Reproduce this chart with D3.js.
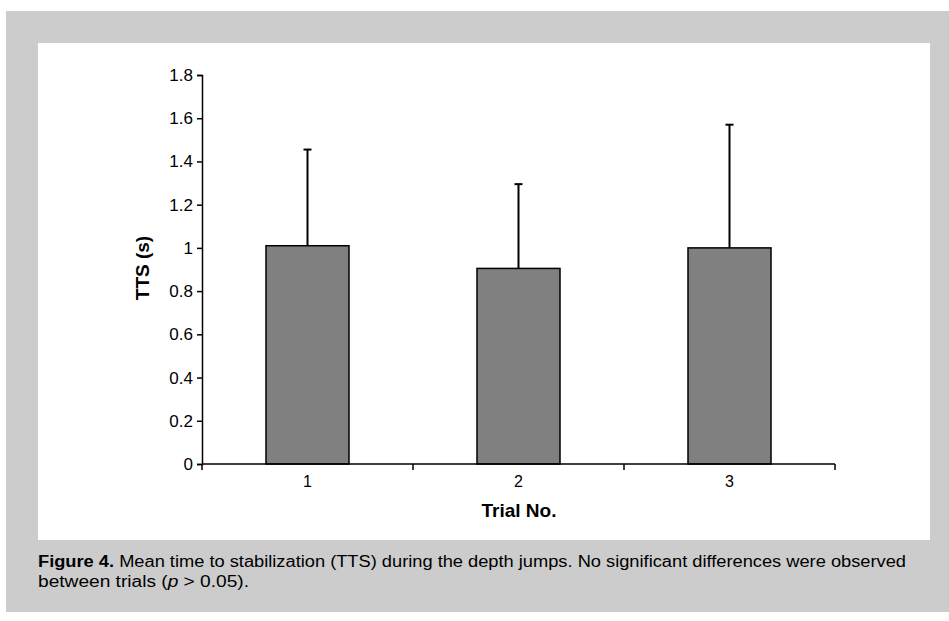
<!DOCTYPE html>
<html>
<head>
<meta charset="utf-8">
<script src="https://cdn.jsdelivr.net/npm/d3@7"></script>
<style>
    body { margin: 0; background: #ffffff; }
    svg { display: block; font-family: "Liberation Sans", Arial, sans-serif; }
</style>
</head>
<body>
<div id="chart"></div>
<script>
    // chart data
    var trials = ["1", "2", "3"];
    var meanTTS = [1.01, 0.905, 1.0];
    var sdTTS = [0.445, 0.39, 0.57];
    var yTicks = [0, 0.2, 0.4, 0.6, 0.8, 1, 1.2, 1.4, 1.6, 1.8];

    function drawChart() {
        var width = 949,
            height = 621,
            svg = d3.select("#chart").append("svg")
                .attr("width", width)
                .attr("height", height),
            plot = {left: 202, right: 835, top: 75, bottom: 464},
            x,
            y,
            band,
            barWidth = 83,
            g;

        // gray frame and white panel
        svg.append("rect")
            .attr("x", 6).attr("y", 11)
            .attr("width", 943).attr("height", 601)
            .attr("fill", "#cccccc");
        svg.append("rect")
            .attr("x", 38).attr("y", 43)
            .attr("width", 892).attr("height", 497)
            .attr("fill", "#ffffff");

        x = d3.scaleBand().domain(trials).range([plot.left, plot.right]);
        y = d3.scaleLinear().domain([0, 1.8]).range([plot.bottom, plot.top]);
        band = x.bandwidth();

        g = svg.append("g");

        // bars
        g.selectAll("rect.bar")
            .data(trials)
            .enter()
            .append("rect")
            .attr("class", "bar")
            .attr("x", function (d) { return x(d) + (band - barWidth) / 2; })
            .attr("y", function (d, i) { return y(meanTTS[i]); })
            .attr("width", barWidth)
            .attr("height", function (d, i) { return y(0) - y(meanTTS[i]); })
            .attr("fill", "#808080")
            .attr("stroke", "#000")
            .attr("stroke-width", 1.5);

        // upper error bars
        g.selectAll("line.err")
            .data(trials)
            .enter()
            .append("line")
            .attr("class", "err")
            .attr("x1", function (d) { return x(d) + band / 2; })
            .attr("x2", function (d) { return x(d) + band / 2; })
            .attr("y1", function (d, i) { return y(meanTTS[i]); })
            .attr("y2", function (d, i) { return y(meanTTS[i] + sdTTS[i]); })
            .attr("stroke", "#000")
            .attr("stroke-width", 2);
        g.selectAll("line.cap")
            .data(trials)
            .enter()
            .append("line")
            .attr("class", "cap")
            .attr("x1", function (d) { return x(d) + band / 2 - 4; })
            .attr("x2", function (d) { return x(d) + band / 2 + 4; })
            .attr("y1", function (d, i) { return y(meanTTS[i] + sdTTS[i]); })
            .attr("y2", function (d, i) { return y(meanTTS[i] + sdTTS[i]); })
            .attr("stroke", "#000")
            .attr("stroke-width", 2);

        // y axis
        var yAxis = svg.append("g")
            .attr("transform", "translate(" + plot.left + ",0)")
            .call(d3.axisLeft(y).tickValues(yTicks).tickSize(5).tickPadding(4)
                .tickFormat(function (d) { return String(d); }));
        yAxis.select(".domain").attr("stroke-width", 1.5);
        yAxis.selectAll(".tick line").attr("stroke-width", 1.5);
        yAxis.selectAll("text")
            .attr("font-size", 17)
            .attr("font-family", "Liberation Sans, Arial, sans-serif")
            .attr("fill", "#000");

        // x axis: ticks at category boundaries, labels at centers
        var xAxis = svg.append("g")
            .attr("transform", "translate(0," + plot.bottom + ")");
        xAxis.append("line")
            .attr("x1", plot.left).attr("x2", plot.right)
            .attr("stroke", "#000").attr("stroke-width", 1.5);
        xAxis.selectAll("line.tk")
            .data(trials.concat(["end"]))
            .enter()
            .append("line")
            .attr("class", "tk")
            .attr("x1", function (d, i) { return plot.left + i * band; })
            .attr("x2", function (d, i) { return plot.left + i * band; })
            .attr("y1", 0).attr("y2", 6)
            .attr("stroke", "#000").attr("stroke-width", 1.5);
        xAxis.selectAll("text")
            .data(trials)
            .enter()
            .append("text")
            .attr("x", function (d) { return x(d) + band / 2; })
            .attr("y", 23)
            .attr("text-anchor", "middle")
            .attr("font-size", 16)
            .text(function (d) { return d; });

        // axis titles
        svg.append("text")
            .attr("x", 519).attr("y", 517)
            .attr("text-anchor", "middle")
            .attr("font-size", 19)
            .attr("font-weight", "bold")
            .text("Trial No.");
        svg.append("text")
            .attr("transform", "translate(149,268) rotate(-90)")
            .attr("text-anchor", "middle")
            .attr("font-size", 19)
            .attr("font-weight", "bold")
            .text("TTS (s)");

        // caption
        var cap1 = svg.append("text")
            .attr("x", 38).attr("y", 567)
            .attr("font-size", 16)
            .attr("textLength", 868)
            .attr("lengthAdjust", "spacingAndGlyphs");
        cap1.append("tspan").attr("font-weight", "bold").text("Figure 4.");
        cap1.append("tspan").text(" Mean time to stabilization (TTS) during the depth jumps. No significant differences were observed");

        var cap2 = svg.append("text")
            .attr("x", 38).attr("y", 587)
            .attr("font-size", 16)
            .attr("textLength", 211)
            .attr("lengthAdjust", "spacingAndGlyphs");
        cap2.append("tspan").text("between trials (");
        cap2.append("tspan").attr("font-style", "italic").text("p");
        cap2.append("tspan").text(" > 0.05).");
    }

    drawChart();
</script>
</body>
</html>
